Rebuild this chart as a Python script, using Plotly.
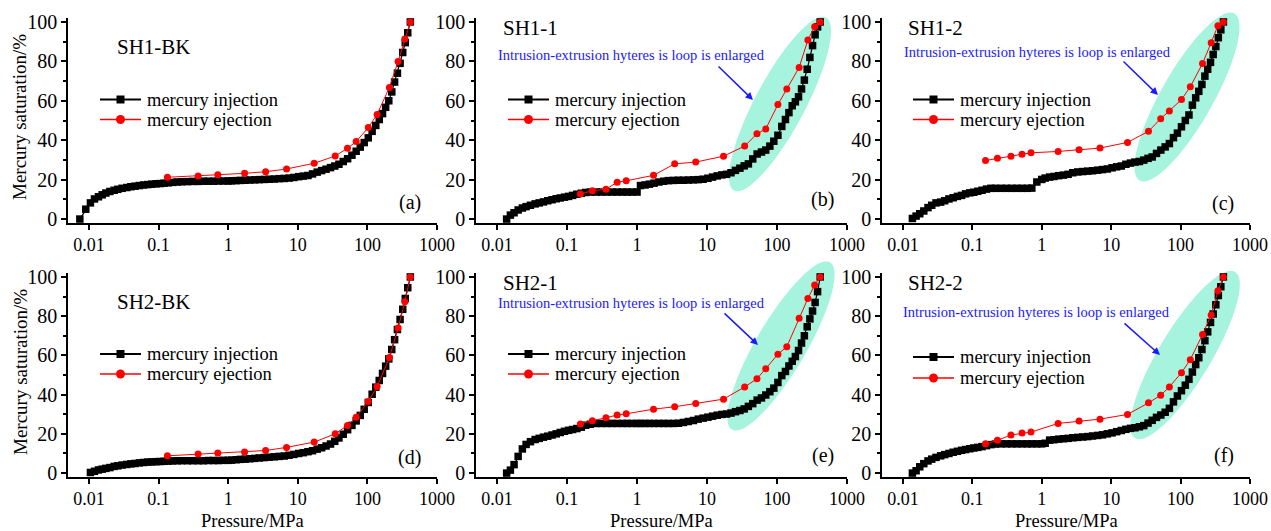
import math
import plotly.graph_objects as go

W, H = 1271, 531

# ---------------- data ----------------
P_INJ = [0.0074, 0.0090, 0.0105, 0.0120, 0.0137, 0.0155, 0.0175, 0.020, 0.023, 0.026,
         0.030, 0.035, 0.040, 0.046, 0.053, 0.061, 0.070, 0.080, 0.092, 0.105,
         0.120, 0.138, 0.160, 0.185, 0.215, 0.26, 0.31, 0.37, 0.44, 0.52,
         0.62, 0.72, 0.85, 1.00, 1.12, 1.30, 1.50, 1.75, 2.05, 2.40,
         2.80, 3.30, 3.90, 4.60, 5.40, 6.40, 7.50, 8.80, 10.3, 12.0,
         14.0, 16.3, 19.0, 22.0, 25.5, 29.5, 34.0, 39.0, 45.0, 52.0,
         60.0, 69.0, 79.0, 90.0, 103, 117, 132, 148, 165, 183,
         203, 224, 246, 270, 295, 322, 350, 380, 414]

P_EJ_BK = [0.134, 0.37, 0.71, 1.72, 3.45, 6.9, 17.2, 34.5, 51.7, 69, 103, 138, 207, 276, 345, 414]
P_EJ = [0.155, 0.23, 0.36, 0.52, 0.70, 1.72, 3.45, 6.9, 17.2, 34.5, 51.7, 69, 103, 138, 207, 276, 345, 414]

INJ_SH1_BK = [0.0, 5.0, 8.2, 10.2, 11.3, 12.3, 13.2, 14.0, 14.6, 15.1,
              15.6, 16.0, 16.4, 16.7, 17.0, 17.3, 17.5, 17.7, 17.9, 18.0,
              18.2, 18.4, 18.6, 18.8, 18.9, 19.0, 19.1, 19.1, 19.2, 19.2,
              19.2, 19.3, 19.3, 19.3, 19.4, 19.5, 19.6, 19.7, 19.8, 19.9,
              20.0, 20.1, 20.2, 20.3, 20.5, 20.6, 20.8, 21.1, 21.5, 21.8,
              22.1, 22.9, 23.8, 24.6, 25.3, 26.1, 26.9, 27.8, 29.2, 30.6,
              32.4, 34.4, 36.5, 38.8, 41.2, 44.5, 47.5, 50.5, 53.5, 56.7,
              60.0, 64.5, 69.5, 74.0, 79.0, 84.5, 89.5, 94.5, 100.0]

INJ_SH1_1 = [None, None, None, None, 0.0, 2.0, 3.2, 4.6, 5.6, 6.3,
             7.0, 7.7, 8.2, 8.7, 9.3, 9.8, 10.3, 10.7, 11.1, 11.5,
             12.0, 12.6, 13.1, 13.5, 13.7, 13.7, 13.7, 13.7, 13.7, 13.7,
             13.7, 13.7, 13.7, 13.7, 17.0, 17.3, 17.7, 18.2, 18.8, 19.2,
             19.5, 19.6, 19.7, 19.7, 19.8, 19.9, 20.0, 20.2, 20.7, 21.3,
             21.9, 22.4, 22.7, 23.5, 24.7, 25.8, 27.0, 28.0, 30.5, 33.0,
             34.0, 35.0, 37.0, 39.5, 42.5, 47.0, 50.5, 54.0, 57.5, 59.5,
             62.0, 66.0, 70.5, 76.0, 82.0, 88.0, 93.5, 97.5, 100.0]

INJ_SH1_2 = [None, None, None, None, 0.3, 1.5, 2.7, 4.1, 5.8, 7.0,
             8.2, 8.6, 9.3, 10.2, 10.8, 11.5, 12.0, 12.8, 13.3, 13.6,
             14.1, 14.6, 15.2, 15.6, 15.6, 15.6, 15.6, 15.6, 15.6, 15.6,
             15.6, 15.7, 18.8, 20.1, 20.8, 21.3, 21.6, 22.0, 22.3, 22.7,
             23.5, 23.9, 24.1, 24.3, 24.5, 24.8, 25.1, 25.4, 26.0, 26.5,
             26.9, 27.8, 28.4, 28.9, 29.2, 29.9, 30.8, 31.5, 33.3, 35.0,
             36.6, 38.3, 41.3, 43.6, 46.8, 50.0, 52.8, 57.8, 61.5, 64.8,
             68.3, 72.5, 76.0, 79.5, 83.5, 87.5, 92.0, 96.0, 100.0]

INJ_SH2_BK = [None, None, 0.3, 0.9, 1.6, 2.0, 2.4, 2.8, 3.4, 3.7,
              4.1, 4.4, 4.7, 4.9, 5.2, 5.4, 5.6, 5.7, 5.8, 5.9,
              6.0, 6.1, 6.2, 6.3, 6.3, 6.3, 6.3, 6.3, 6.3, 6.4,
              6.4, 6.4, 6.5, 6.5, 6.6, 6.8, 7.0, 7.1, 7.3, 7.5,
              7.7, 7.9, 8.1, 8.3, 8.5, 8.7, 9.1, 9.5, 10.0, 10.4,
              10.9, 11.4, 12.2, 12.9, 13.8, 14.8, 16.2, 17.9, 19.8, 22.1,
              24.3, 26.6, 29.4, 32.5, 36.0, 40.2, 43.8, 47.2, 50.8, 54.5,
              58.2, 63.0, 68.0, 73.2, 78.3, 83.5, 89.0, 94.5, 100.0]

INJ_SH2_1 = [None, None, None, None, 0.0, 1.5, 4.3, 8.5, 12.3, 14.6,
             16.0, 17.1, 17.7, 18.3, 18.8, 19.4, 20.0, 20.7, 21.3, 21.8,
             22.2, 22.7, 23.4, 24.4, 24.9, 25.3, 25.3, 25.3, 25.3, 25.3,
             25.3, 25.3, 25.3, 25.3, 25.3, 25.3, 25.3, 25.3, 25.3, 25.3,
             25.3, 25.3, 25.4, 25.8, 26.3, 26.8, 27.5, 28.0, 28.5, 29.0,
             29.5, 29.9, 30.1, 30.6, 31.3, 31.9, 32.7, 34.0, 35.4, 37.2,
             38.3, 39.8, 41.5, 43.3, 46.2, 49.7, 51.8, 54.6, 57.0, 59.4,
             62.5, 66.3, 70.0, 74.6, 78.6, 82.6, 87.0, 92.5, 100.0]

INJ_SH2_2 = [None, None, None, None, 0.0, 1.2, 3.2, 4.8, 6.2, 7.1,
             8.0, 8.8, 9.4, 10.0, 10.6, 11.1, 11.6, 12.0, 12.4, 12.8,
             13.1, 13.5, 14.0, 14.5, 14.8, 14.9, 14.9, 14.9, 14.9, 14.9,
             14.9, 14.9, 14.9, 14.9, 15.2, 16.8, 17.0, 17.3, 17.5, 17.7,
             18.0, 18.2, 18.4, 18.6, 18.9, 19.2, 19.5, 20.0, 20.5, 21.1,
             21.7, 22.3, 22.8, 23.1, 23.6, 24.2, 25.5, 26.9, 28.4, 29.6,
             31.0, 33.0, 36.3, 39.3, 42.0, 44.8, 47.8, 51.5, 55.3, 58.8,
             63.0, 67.5, 72.0, 76.8, 81.1, 85.8, 90.5, 95.0, 100.0]

EJ_SH1_BK = [21.2, 21.8, 22.5, 23.2, 24.0, 25.4, 28.3, 32.0, 35.9, 39.3, 46.4, 53.1, 66.8, 79.9, 91.4, 100.0]
EJ_SH1_1 = [12.7, 14.4, 15.1, 18.7, 19.4, 22.2, 28.0, 28.9, 31.9, 37.0, 43.3, 45.7, 58.1, 66.0, 76.9, 90.8, 97.6, 100.0]
EJ_SH1_2 = [29.7, 30.9, 31.9, 32.9, 33.6, 34.3, 35.1, 36.0, 38.9, 44.5, 50.9, 54.8, 60.6, 67.1, 78.9, 89.5, 98.1, 100.0]
EJ_SH2_BK = [8.8, 9.7, 10.2, 10.7, 11.5, 13.1, 15.8, 20.0, 24.3, 28.4, 36.5, 44.1, 58.9, 73.9, 87.4, 100.0]
EJ_SH2_1 = [25.0, 26.7, 28.2, 29.6, 30.2, 32.6, 33.8, 35.5, 37.7, 43.9, 48.1, 53.2, 60.6, 64.4, 78.9, 89.0, 95.9, 100.0]
EJ_SH2_2 = [14.9, 16.7, 19.4, 20.4, 20.9, 25.3, 26.5, 27.5, 29.9, 35.8, 39.7, 43.9, 51.2, 57.8, 70.6, 80.6, 92.9, 100.0]

SAMPLES = ["SH1-BK", "SH1-1", "SH1-2", "SH2-BK", "SH2-1", "SH2-2"]
TAGS = ["(a)", "(b)", "(c)", "(d)", "(e)", "(f)"]
X_TICKS = [0.01, 0.1, 1, 10, 100, 1000]
X_TICK_TEXT = ["0.01", "0.1", "1", "10", "100", "1000"]
Y_TICKS = [0, 20, 40, 60, 80, 100]
LEG_NAMES = ["mercury injection", "mercury ejection"]
NOTE = "Intrusion-extrusion hyteres is loop is enlarged"

INJ = [INJ_SH1_BK, INJ_SH1_1, INJ_SH1_2, INJ_SH2_BK, INJ_SH2_1, INJ_SH2_2]
EJ_P = [P_EJ_BK, P_EJ, P_EJ, P_EJ_BK, P_EJ, P_EJ]
EJ = [EJ_SH1_BK, EJ_SH1_1, EJ_SH1_2, EJ_SH2_BK, EJ_SH2_1, EJ_SH2_2]

# ---------------- layout geometry (screen pixels) ----------------
def px(x):
    return x / W

def py(y):
    return 1 - y / H

X_DOM = [(68, 437), (476, 847), (882, 1250)]
Y_DOM = [(18, 223), (273, 477)]

SERIF = "Liberation Serif"
fig = go.Figure()

for i in range(6):
    r, c = divmod(i, 3)
    sfx = "" if i == 0 else str(i + 1)
    xa, ya = "x" + sfx, "y" + sfx
    fig.add_trace(go.Scatter(
        x=P_INJ, y=INJ[i], xaxis=xa, yaxis=ya, mode="lines+markers",
        name=LEG_NAMES[0], showlegend=False,
        line=dict(color="black", width=1.2),
        marker=dict(symbol="square", size=7.5, color="black")))
    fig.add_trace(go.Scatter(
        x=EJ_P[i], y=EJ[i], xaxis=xa, yaxis=ya, mode="lines+markers",
        name=LEG_NAMES[1], showlegend=False,
        line=dict(color="red", width=1),
        marker=dict(symbol="circle", size=7, color="red")))
    x0, x1 = X_DOM[c]
    y0, y1 = Y_DOM[r]
    fig.layout["xaxis" + sfx] = dict(
        domain=[px(x0), px(x1)], type="log", range=[math.log10(0.005), 3],
        anchor=ya, automargin=False, showline=True, linecolor="black", linewidth=1.5,
        ticks="outside", ticklen=5, tickwidth=1.5, tickcolor="black",
        tickvals=X_TICKS, ticktext=X_TICK_TEXT,
        tickfont=dict(family=SERIF, size=18, color="black"),
        showgrid=False, zeroline=False)
    fig.layout["yaxis" + sfx] = dict(
        domain=[py(y1), py(y0)], range=[-2, 102], anchor=xa, automargin=False,
        showline=True, linecolor="black", linewidth=1.5,
        ticks="outside", ticklen=5, tickwidth=1.5, tickcolor="black",
        tickvals=Y_TICKS, ticktext=[str(v) for v in Y_TICKS],
        tickfont=dict(family=SERIF, size=20, color="black"),
        minor=dict(ticks="outside", ticklen=3, tickwidth=1.5, tickcolor="black",
                   tickvals=[10, 30, 50, 70, 90], showgrid=False),
        showgrid=False, zeroline=False)

annotations = []
shapes = []

def text(x, y, s, size, color="black", xanchor="left", angle=0):
    annotations.append(dict(x=px(x), y=py(y), xref="paper", yref="paper",
                            text=s, showarrow=False, xanchor=xanchor, yanchor="middle",
                            textangle=angle,
                            font=dict(family=SERIF, size=size, color=color)))

# axis titles
text(20, 117, "Mercury saturation/%", 19, xanchor="center", angle=-90)
text(20, 372, "Mercury saturation/%", 19, xanchor="center", angle=-90)
for cx in (252, 661, 1066):
    text(cx, 521, "Pressure/MPa", 18.5, xanchor="center")

# sample names and panel tags
NAME_POS = [(115, 47), (501, 28), (906, 28), (115, 302), (501, 283), (906, 283)]
TAG_POS = [(423, 202), (836, 200), (1236, 203), (423, 457), (836, 455), (1236, 455)]
for i in range(6):
    text(NAME_POS[i][0], NAME_POS[i][1], SAMPLES[i], 21)
    text(TAG_POS[i][0], TAG_POS[i][1], TAGS[i], 20, xanchor="right")

# manual legends
LEG_POS = [(100, 99.5, 119.5), (508, 99.5, 119.5), (913, 99.5, 119.5),
           (100, 354, 374), (508, 354, 374), (913, 357, 378)]
for (lx, ly1, ly2) in LEG_POS:
    shapes.append(dict(type="line", xref="paper", yref="paper",
                       x0=px(lx), x1=px(lx + 41), y0=py(ly1), y1=py(ly1),
                       line=dict(color="black", width=2)))
    shapes.append(dict(type="rect", xref="paper", yref="paper",
                       x0=px(lx + 16.5), x1=px(lx + 24.5), y0=py(ly1 + 4), y1=py(ly1 - 4),
                       fillcolor="black", line=dict(width=0)))
    shapes.append(dict(type="line", xref="paper", yref="paper",
                       x0=px(lx), x1=px(lx + 41), y0=py(ly2), y1=py(ly2),
                       line=dict(color="red", width=1.5)))
    shapes.append(dict(type="circle", xref="paper", yref="paper",
                       x0=px(lx + 16), x1=px(lx + 25), y0=py(ly2 + 4.5), y1=py(ly2 - 4.5),
                       fillcolor="red", line=dict(width=0)))
    text(lx + 45, ly1, LEG_NAMES[0], 18.5)
    text(lx + 45, ly2, LEG_NAMES[1], 18.5)

# hysteresis highlight ellipses, notes and arrows (panels b, c, e, f)
ELLIPSES = [(780, 104, 98, 25, 62), (1187, 97, 96, 26, 60.4),
            (781, 346, 97, 25, 59.6), (1185, 355, 97, 26, 58.9)]
NOTE_POS = [(631, 55), (1037, 52), (631, 303), (1036, 312)]
ARROWS = [((717, 65), (753, 100)), ((1122, 60), (1158, 95)),
          ((723, 312), (758, 345)), ((1123, 322), (1160, 355))]
for (cx, cy, a, b, ang), (nx, ny), ((tx, ty), (hx, hy)) in zip(ELLIPSES, NOTE_POS, ARROWS):
    th = math.radians(ang)
    pts = []
    for k in range(72):
        t = 2 * math.pi * k / 72
        ex = a * math.cos(t)
        ey = b * math.sin(t)
        X = cx + ex * math.cos(th) - ey * math.sin(th)
        Y = cy - (ex * math.sin(th) + ey * math.cos(th))
        pts.append(f"{px(X):.5f},{py(Y):.5f}")
    shapes.append(dict(type="path", xref="paper", yref="paper", layer="below",
                       path="M " + " L ".join(pts) + " Z",
                       fillcolor="rgb(166,243,222)", line=dict(width=0)))
    text(nx, ny, NOTE, 14.5, color="#1a1aff", xanchor="center")
    annotations.append(dict(x=px(hx), y=py(hy), xref="paper", yref="paper",
                            ax=tx - hx, ay=ty - hy, text="", showarrow=True,
                            arrowhead=2, arrowsize=1, arrowwidth=1.5,
                            arrowcolor="#1a1aff", standoff=0, startstandoff=0))

fig.update_layout(
    template="none",
    width=W, height=H, autosize=False,
    margin=dict(l=0, r=0, t=0, b=0, pad=0, autoexpand=False),
    paper_bgcolor="white", plot_bgcolor="rgba(0,0,0,0)",
    showlegend=False,
    annotations=annotations, shapes=shapes,
    font=dict(family=SERIF, color="black"))

# remove the default 8px page margin so the 1271x531 figure fills the window exactly
fig.write_html("out.html", config={"displayModeBar": False},
               post_script="document.body.style.margin='0';")
